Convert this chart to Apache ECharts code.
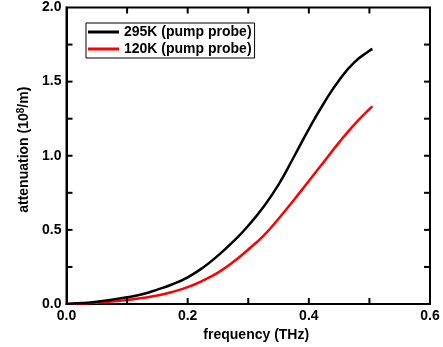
<!DOCTYPE html>
<html>
<head>
<meta charset="utf-8">
<script src="https://cdn.jsdelivr.net/npm/echarts@6/dist/echarts.min.js"></script>
<style>
html,body{margin:0;padding:0;background:#fff;}
#chart{width:443px;height:347px;}
</style>
</head>
<body>
<div id="chart"></div>
<script>
var frequency = [0, 0.025, 0.05, 0.075, 0.1, 0.125, 0.15, 0.175, 0.2, 0.225, 0.25, 0.275, 0.3, 0.325, 0.35, 0.375, 0.4, 0.425, 0.45, 0.475, 0.5, 0.505];
var att295 = [0, 0.006, 0.015, 0.028, 0.045, 0.066, 0.097, 0.133, 0.180, 0.245, 0.326, 0.420, 0.528, 0.655, 0.805, 0.990, 1.180, 1.356, 1.510, 1.630, 1.708, 1.720];
var att120 = [0, 0.003, 0.008, 0.016, 0.027, 0.040, 0.057, 0.082, 0.114, 0.158, 0.212, 0.283, 0.368, 0.460, 0.575, 0.700, 0.830, 0.960, 1.090, 1.210, 1.315, 1.333];
var seriesNames = ['295K (pump probe)', '120K (pump probe)'];
var xTickValues = [0.1, 0.2, 0.3, 0.4, 0.5];
var yTickValues = [0.25, 0.5, 0.75, 1.0, 1.25, 1.5, 1.75];
var xTitle = 'frequency (THz)';
var yTitle = 'attenuation (10{sup|8}/m)';

var X_MIN = 0, X_MAX = 0.6, Y_MIN = 0, Y_MAX = 2;
function pairs(ys){ return frequency.map(function(f,i){ return [f, ys[i]]; }); }

var FONT = '"Liberation Sans", Arial, sans-serif';
var TICK = 6;
var chart = echarts.init(document.getElementById('chart'), null, {renderer:'canvas'});
function axisLine(){ return {show:true, onZero:false, lineStyle:{color:'#000', width:2}}; }
function label(){ return {show:true, color:'#000', fontSize:14, fontWeight:'bold', fontFamily:FONT, margin:5,
  formatter:function(v){ return (+v).toFixed(1); }}; }

var tickData = xTickValues.map(function(v){ return [v, 0, 0]; })
  .concat(yTickValues.map(function(v){ return [0, v, 1]; }));
function seg(x1, y1, x2, y2){
  return {type:'line', shape:{x1:x1, y1:y1, x2:x2, y2:y2}, style:{stroke:'#000', lineWidth:2, fill:null}};
}
function renderTick(params, api){
  var isY = api.value(2) === 1;
  var a, b;
  if (!isY) {
    a = api.coord([api.value(0), Y_MIN]);
    b = api.coord([api.value(0), Y_MAX]);
    return {type:'group', children:[ seg(a[0], a[1], a[0], a[1]-TICK), seg(b[0], b[1], b[0], b[1]+TICK) ]};
  }
  a = api.coord([X_MIN, api.value(1)]);
  b = api.coord([X_MAX, api.value(1)]);
  return {type:'group', children:[ seg(a[0], a[1], a[0]+TICK, a[1]), seg(b[0], b[1], b[0]-TICK, b[1]) ]};
}

chart.setOption({
  animation:false,
  backgroundColor:'#fff',
  grid:{left:66.5, right:13, top:7.5, bottom:43, containLabel:false, outerBoundsMode:'none',
    show:true, borderColor:'#000', borderWidth:2, backgroundColor:'transparent'},
  legend:{
    orient:'vertical', left:86, top:23,
    data:seriesNames,
    icon:'rect', itemWidth:31, itemHeight:3, itemGap:3,
    borderColor:'#000', borderWidth:1, padding:[2,3,2,2],
    textStyle:{color:'#000', fontSize:14, fontWeight:'bold', fontFamily:FONT}
  },
  xAxis:{
    type:'value', min:X_MIN, max:X_MAX, interval:0.2,
    axisLine:axisLine(), axisTick:{show:false}, minorTick:{show:false},
    axisLabel:label(), splitLine:{show:false},
    name:xTitle, nameLocation:'middle', nameGap:24,
    nameTextStyle:{color:'#000', fontSize:14, fontWeight:'bold', fontFamily:FONT, padding:[0,0,0,16]}
  },
  yAxis:{
    type:'value', min:Y_MIN, max:Y_MAX, interval:0.5,
    axisLine:axisLine(), axisTick:{show:false}, minorTick:{show:false},
    axisLabel:label(), splitLine:{show:false},
    name:yTitle, nameLocation:'middle', nameGap:33,
    nameTextStyle:{color:'#000', fontSize:14, fontWeight:'bold', fontFamily:FONT, padding:[0,0,0,12],
      rich:{sup:{fontSize:10, fontWeight:'bold', fontFamily:FONT, color:'#000', verticalAlign:'top', padding:[0,0,6,0]}}}
  },
  series:[{
    name:seriesNames[0], type:'line', data:pairs(att295), smooth:0.5, showSymbol:false,
    lineStyle:{color:'#000', width:2.5}, itemStyle:{color:'#000'}, z:3
  },{
    name:seriesNames[1], type:'line', data:pairs(att120), smooth:0.5, showSymbol:false,
    lineStyle:{color:'#ff0000', width:2.5}, itemStyle:{color:'#ff0000'}, z:2
  },{
    name:'ticks', type:'custom', coordinateSystem:'cartesian2d', data:tickData, renderItem:renderTick,
    silent:true, clip:false, z:4, encode:{x:0, y:1}
  }]
});
</script>
</body>
</html>
